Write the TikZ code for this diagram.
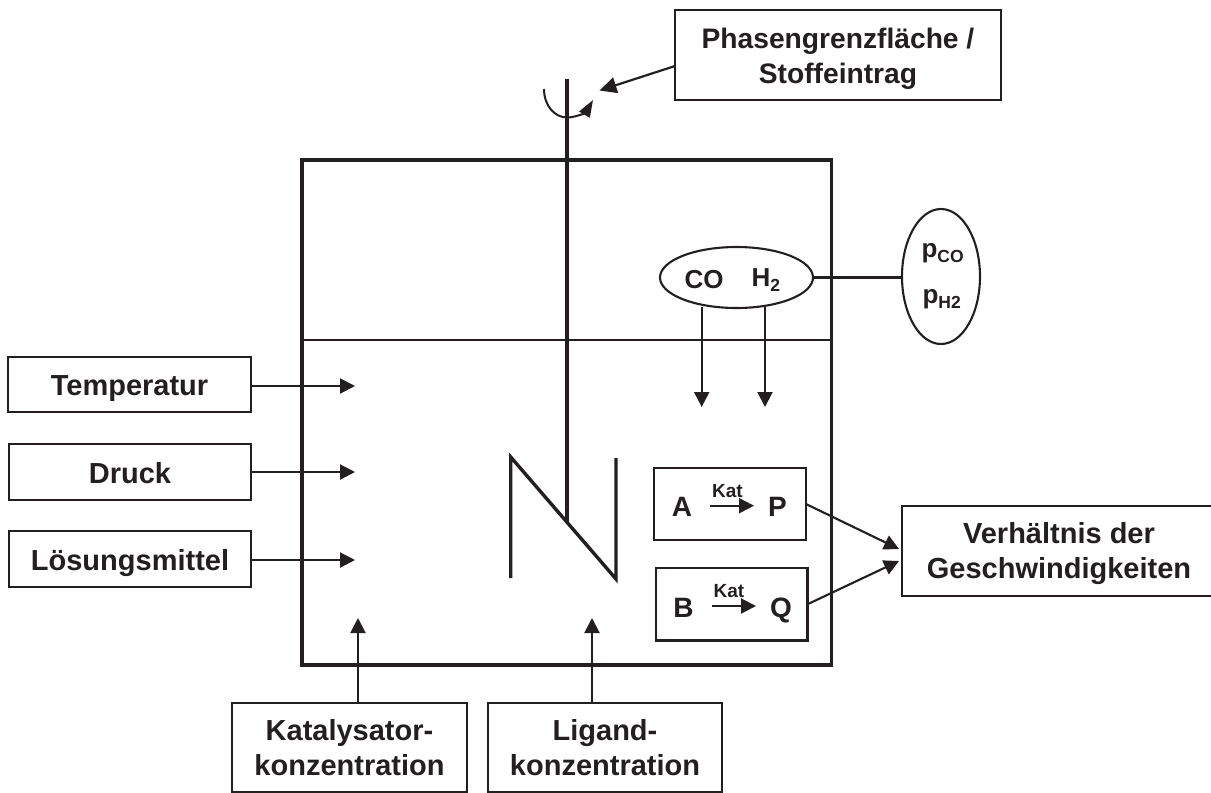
\documentclass[tikz,border=0pt]{standalone}
\usepackage{fontspec}
\setmainfont{Liberation Sans}
\usetikzlibrary{arrows.meta,shapes.geometric}
\definecolor{ink}{HTML}{231F20}
\newcommand{\twolines}[2]{\begin{tabular}[t]{@{}c@{}}#1\\#2\end{tabular}}
\tikzset{
 x=1pt,y=-1pt,
 every node/.style={outer sep=0pt},
 plainbox/.style={draw=ink,line width=2.1pt,inner sep=0pt,anchor=north west},
 box/.style={plainbox,text=ink,font=\fontsize{29}{35}\selectfont\bfseries},
 onebox/.style={box,text height=30pt,text depth=8pt},
 twobox/.style={box,text height=20pt,text depth=#1},
 thinline/.style={draw=ink,line width=2.1pt},
 heavy/.style={draw=ink,line width=3.4pt},
 arr/.style={draw=ink,line width=2.1pt,-{Triangle[length=15pt,width=15pt]}},
 lab/.style={inner sep=0pt,anchor=base,text=ink,font=\fontsize{28}{30}\selectfont\bfseries},
 gaslab/.style={lab,font=\fontsize{26}{30}\selectfont\bfseries},
 preslab/.style={inner sep=0pt,anchor=base west,text=ink,font=\fontsize{26}{30}\selectfont\bfseries},
 kat/.style={inner sep=0pt,anchor=base,text=ink,font=\fontsize{19}{20}\selectfont\bfseries},
 oval/.style={draw=ink,line width=2.1pt,ellipse,inner sep=0pt},
}
\newcommand{\lowsub}[2]{\raisebox{#1}{\fontsize{17.5}{17.5}\selectfont #2}}
\begin{document}
\begin{tikzpicture}
\useasboundingbox (0,0) rectangle (1211,793);
\node[twobox=34pt,minimum width=326pt,minimum height=90pt,font=\fontsize{28.2}{35}\selectfont\bfseries] (phase) at (675,10) {\twolines{Phasengrenzfläche /}{Stoffeintrag}};
\node[plainbox,line width=3.4pt,minimum width=529.5pt,minimum height=505pt] (reactor) at (302,160) {};
\coordinate (liqL) at (302,340); \coordinate (liqR) at (832,340);
\draw[thinline] (liqL) -- (liqR);
\coordinate (shaftT) at (567,79); \coordinate (shaftB) at (567,522);
\draw[heavy] (shaftT) -- (shaftB);
\coordinate (n1) at (510.7,578); \coordinate (n2) at (510.7,457); \coordinate (n3) at (616,579); \coordinate (n4) at (616,458);
\draw[heavy,line join=miter] (n1) -- (n2) -- (n3) -- (n4);
\coordinate (rotS) at (544,89); \coordinate (rotE) at (593,100); \coordinate (phaseTip) at (599.5,90.5);
\draw[draw=ink,line width=2pt,-{Triangle[length=17pt,width=12pt]}] (rotS) .. controls (544,106) and (555,117.5) .. (567,117.5) .. controls (576,117.5) and (586,112) .. (rotE);
\draw[draw=ink,line width=2.2pt,-{Triangle[length=17pt,width=16pt]}] (phase.west |- 0,66) -- (phaseTip);
\node[oval,minimum width=153pt,minimum height=61pt] (gas) at (736.5,277.5) {};
\node[gaslab] (co) at (704,288) {CO};
\node[gaslab,anchor=base west] (h2) at (751.5,286) {H\lowsub{-5pt}{2}};
\node[oval,minimum width=78pt,minimum height=135pt] (press) at (941,276.5) {};
\node[preslab] (pco) at (921.5,257) {p\lowsub{-5pt}{CO}};
\node[preslab] (ph2) at (922.5,303) {p\lowsub{-5pt}{H2}};
\draw[thinline] (gas.east) -- (gas.east -| press.west);
\coordinate (coTip) at (701.7,407); \coordinate (hTip) at (765,407);
\draw[arr] (coTip |- gas.south) ++(0,-1.5) -- (coTip);
\draw[arr] (hTip |- gas.south) ++(0,-1.5) -- (hTip);
\node[onebox,minimum width=243pt,minimum height=55pt] (temp) at (8,357) {Temperatur};
\node[onebox,minimum width=242pt,minimum height=56pt] (druck) at (9,444) {Druck};
\node[onebox,minimum width=242pt,minimum height=56pt] (loes) at (9,531) {Lösungsmittel};
\coordinate (t1) at (355,386); \coordinate (t2) at (355,472); \coordinate (t3) at (355,560);
\draw[arr] (temp.east |- t1) -- (t1);
\draw[arr] (druck.east |- t2) -- (t2);
\draw[arr] (loes.east |- t3) -- (t3);
\node[twobox=35pt,minimum width=235pt,minimum height=89pt] (katb) at (232,703) {\twolines{Katalysator-}{konzentration}};
\node[twobox=35pt,minimum width=234pt,minimum height=89pt] (ligb) at (488,703) {\twolines{Ligand-}{konzentration}};
\coordinate (t4) at (358,618); \coordinate (t5) at (592,618);
\draw[arr] (t4 |- katb.north) -- (t4);
\draw[arr] (t5 |- ligb.north) -- (t5);
\node[plainbox,minimum width=152pt,minimum height=72pt] (ab) at (654,468) {};
\node[plainbox,minimum width=151.5pt,minimum height=72.5pt] (bb) at (656,568) {};
\node[lab] (a) at (682,516) {A};
\node[lab] (p) at (777.5,516) {P};
\node[kat] (k1) at (727.5,497) {Kat};
\coordinate (a1) at (710,505.7); \coordinate (a2) at (754,505.7);
\draw[arr] (a1) -- (a2);
\node[lab] (b) at (683.5,617) {B};
\node[lab] (q) at (781,617) {Q};
\node[kat] (k2) at (729,597) {Kat};
\coordinate (b1) at (712,606); \coordinate (b2) at (756,606);
\draw[arr] (b1) -- (b2);
\node[twobox=36pt,minimum width=314pt,minimum height=90pt] (ratio) at (902,506) {\twolines{Verhältnis der}{Geschwindigkeiten}};
\coordinate (r1) at (899,549); \coordinate (r2) at (899,561);
\draw[arr] (ab.east) -- (r1);
\draw[arr] (bb.east) -- (r2);
\end{tikzpicture}
\end{document}
